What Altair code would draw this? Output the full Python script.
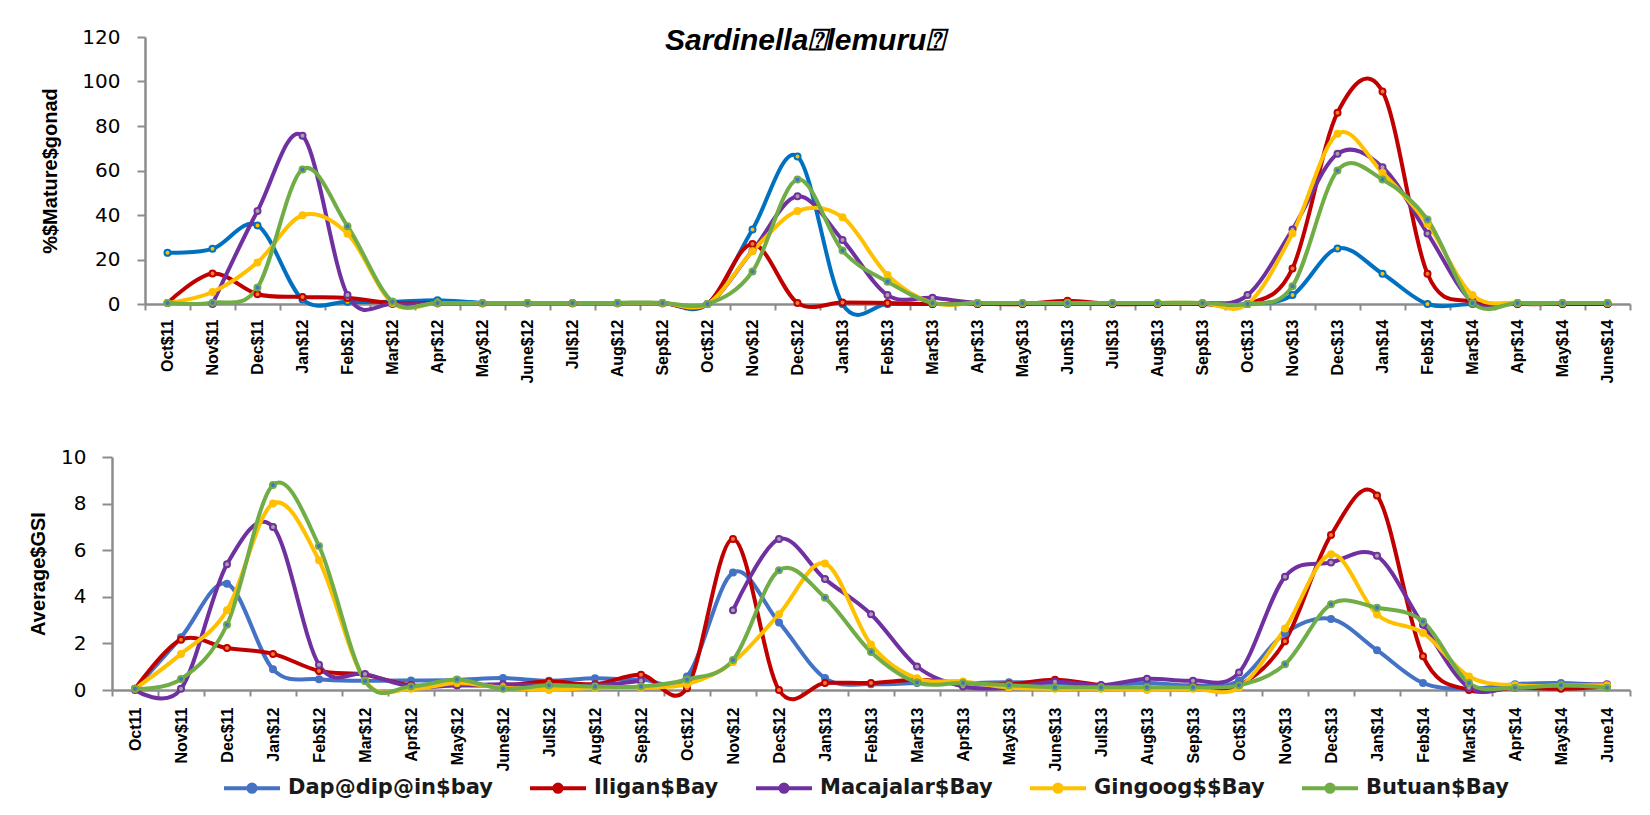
import altair as alt
import pandas as pd

bays = ["Dap@dip@in$bay", "Iligan$Bay", "Macajalar$Bay", "Gingoog$$Bay", "Butuan$Bay"]

top_labels = ["Oct$11", "Nov$11", "Dec$11", "Jan$12", "Feb$12", "Mar$12", "Apr$12", "May$12",
              "June$12", "Jul$12", "Aug$12", "Sep$12", "Oct$12", "Nov$12", "Dec$12", "Jan$13",
              "Feb$13", "Mar$13", "Apr$13", "May$13", "Jun$13", "Jul$13", "Aug$13", "Sep$13",
              "Oct$13", "Nov$13", "Dec$13", "Jan$14", "Feb$14", "Mar$14", "Apr$14", "May$14", "June$14"]

bottom_labels = ["Oct11", "Nov$11", "Dec$11", "Jan$12", "Feb$12", "Mar$12", "Apr$12", "May$12",
                 "June$12", "Jul$12", "Aug$12", "Sep$12", "Oct$12", "Nov$12", "Dec$12", "Jan$13",
                 "Feb$13", "Mar$13", "Apr$13", "May$13", "June$13", "Jul$13", "Aug$13", "Sep$13",
                 "Oct$13", "Nov$13", "Dec$13", "Jan$14", "Feb$14", "Mar$14", "Apr$14", "May$14", "June14"]

# % mature gonad
top_dap = [23, 24.8, 35.3, 2, 1, 1, 1.7, 0.5, 0.5, 0.5, 0.5, 0.5, 0, 33.5, 66.3, 0, 0, 0, 0, 0, 0, 0, 0, 0,
           0, 4, 25, 13.6, 0, 0, 0, 0, 0]
top_iligan = [0.5, 13.7, 4.4, 3.2, 2.7, 0.5, 0.3, 0.3, 0.3, 0.3, 0.3, 0.3, 0, 27, 0.5, 0.7, 0.5, 0, 0, 0,
              1.5, 0, 0, 0, 0, 16, 86, 95.5, 13.6, 1, 0, 0, 0]
top_macajalar = [None, 0, 41.8, 75.6, 4, 0, 0.3, 0.3, 0.3, 0.3, 0.3, 0.3, 0, 24, 48.4, 28.8, 4, 2.8, 0.5,
                 0.3, 0.3, 0.3, 0.3, 0.3, 4, 33.5, 67.5, 61.5, 31.7, 1, 0.5, 0.5, 0.5]
top_gingoog = [0.5, 5.4, 18.7, 39.9, 31.6, 0.5, 0.5, 0.5, 0.5, 0.5, 0.5, 0.5, 0, 23.7, 41.8, 39, 13, 0.5,
               0.5, 0.5, 0.5, 0.5, 0.5, 0.5, 0, 31.7, 76.5, 59, 36, 4, 0.5, 0.5, 0.5]
top_butuan = [0.5, 0.6, 7.4, 60.5, 35, 1, 0.5, 0.5, 0.5, 0.5, 0.5, 0.5, 0, 14.6, 56, 24, 10, 0.5, 0.5,
              0.5, 0.5, 0.5, 0.5, 0.5, 0, 8, 60, 56, 38, 0.5, 0.5, 0.5, 0.5]

# average GSI
bot_dap = [0.05, 2.26, 4.56, 0.89, 0.46, 0.4, 0.41, 0.43, 0.51, 0.4, 0.5, 0.45, 0.58, 5.04, 2.9, 0.51,
           0.25, 0.3, 0.3, 0.33, 0.3, 0.2, 0.3, 0.2, 0.4, 2.44, 3.05, 1.71, 0.3, 0.05, 0.25, 0.3, 0.2]
bot_iligan = [0.05, 2.16, 1.8, 1.55, 0.82, 0.65, 0.2, 0.2, 0.2, 0.37, 0.25, 0.65, 0.08, 6.48, 0.0, 0.3,
              0.3, 0.44, 0.3, 0.25, 0.44, 0.2, 0.05, 0.15, 0.2, 2.09, 6.65, 8.35, 1.45, 0.0, 0.1, 0.05, 0.15]
bot_macajalar = [0.0, 0.05, 5.4, 7.0, 1.08, 0.69, 0.15, 0.2, 0.25, 0.2, 0.2, 0.4, None, 3.42, 6.48, 4.76,
                 3.25, 1.01, 0.15, 0.1, 0.35, 0.2, 0.48, 0.4, 0.75, 4.86, 5.47, 5.76, 2.8, 0.1, 0.15, 0.2, 0.25]
bot_gingoog = [0.05, 1.55, 3.42, 8.0, 5.57, 0.4, 0.05, 0.3, 0.1, 0.0, 0.1, 0.1, 0.25, 1.2, 3.25, 5.43,
               1.95, 0.5, 0.37, 0.1, 0.05, 0.05, 0.0, 0.05, 0.1, 2.64, 5.83, 3.24, 2.45, 0.58, 0.2, 0.2, 0.2]
bot_butuan = [0.05, 0.47, 2.8, 8.8, 6.18, 0.39, 0.15, 0.45, 0.05, 0.2, 0.15, 0.15, 0.45, 1.29, 5.14, 3.96,
              1.63, 0.32, 0.3, 0.2, 0.12, 0.12, 0.12, 0.12, 0.2, 1.11, 3.68, 3.53, 2.94, 0.3, 0.1, 0.2, 0.1]

top_line_colors = ["#0070C0", "#C00000", "#7030A0", "#FFC000", "#70AD47"]
bot_line_colors = ["#4472C4", "#C00000", "#7030A0", "#FFC000", "#70AD47"]
top_fill_colors = ["#FFC000", "#ED7D31", "#A5A5A5", "#FFC000", "#4472C4"]
bot_fill_colors = ["#4472C4", "#ED7D31", "#A5A5A5", "#FFC000", "#4472C4"]


def build(labels, series):
    rows = []
    for bay, vals in zip(bays, series):
        seg = 0
        for lab, v in zip(labels, vals):
            if v is None:
                seg += 1
                continue
            rows.append({"Month": lab, "Bay": bay, "Value": v, "Seg": f"{bay}-{seg}"})
    return pd.DataFrame(rows)


df_top = build(top_labels, [top_dap, top_iligan, top_macajalar, top_gingoog, top_butuan])
df_bot = build(bottom_labels, [bot_dap, bot_iligan, bot_macajalar, bot_gingoog, bot_butuan])

AX = "#8c8c8c"
PANEL_W = 1518


def panel(df, labels, line_colors, fill_colors, ymax, ystep, ytitle, x0, height,
          tick_y, lab_pad_y, title_pad_y, lab_pad_x, legend):
    xscale = alt.Scale(type="band", domain=labels, range=[x0, PANEL_W], paddingInner=0, paddingOuter=0)
    xaxis = alt.Axis(title=None, labelAngle=-90, labelFont="Liberation Sans", labelFontWeight="bold",
                     labelFontSize=16, labelColor="#000000", labelPadding=lab_pad_x, tickBand="extent",
                     tickSize=6, tickColor=AX, tickWidth=2, domainColor=AX, domainWidth=2.5,
                     labelOverlap=False, labelLimit=200)
    yaxis = alt.Axis(title=ytitle, values=list(range(0, ymax + 1, ystep)), grid=False, offset=-x0,
                     labelFont="DejaVu Sans", labelFontSize=20, labelColor="#000000",
                     labelPadding=lab_pad_y, tickSize=tick_y, tickColor=AX, tickWidth=2,
                     domainColor=AX, domainWidth=2.5, titleFont="Liberation Sans", titleFontSize=20,
                     titleFontWeight="bold", titleColor="#000000", titlePadding=title_pad_y)
    yscale = alt.Scale(domain=[0, ymax], nice=False, zero=True)
    base = alt.Chart(df)
    if legend:
        leg = alt.Legend(title=None, orient="none", legendX=110, legendY=301, direction="horizontal",
                         columns=5, symbolType="M-1,0L1,0M0.13,0A0.13,0.13,0,1,1,-0.13,0A0.13,0.13,0,1,1,0.13,0",
                         symbolSize=3136, symbolStrokeWidth=4, labelFont="DejaVu Sans",
                         labelFontSize=21, labelFontWeight="bold", labelColor="#1a1a1a",
                         labelOffset=6, columnPadding=29, padding=0, labelLimit=400)
    else:
        leg = None
    color = alt.Color("Bay:N", scale=alt.Scale(domain=bays, range=line_colors), legend=leg)
    lines = base.mark_line(interpolate="cardinal", tension=0, strokeWidth=4,
                           strokeJoin="round", strokeCap="round").encode(
        x=alt.X("Month:N", scale=xscale, axis=xaxis, sort=labels),
        y=alt.Y("Value:Q", scale=yscale, axis=yaxis),
        color=color,
        detail="Seg:N",
    )
    points = base.mark_point(filled=True, size=36, strokeWidth=2, opacity=1).encode(
        x=alt.X("Month:N", scale=xscale, sort=labels),
        y=alt.Y("Value:Q", scale=yscale),
        stroke=alt.Stroke("Bay:N", scale=alt.Scale(domain=bays, range=line_colors), legend=None),
        fill=alt.Fill("Bay:N", scale=alt.Scale(domain=bays, range=fill_colors), legend=None),
    )
    return alt.layer(lines, points).properties(width=PANEL_W, height=height) \
        .resolve_scale(stroke="independent", fill="independent", color="independent")


top = panel(df_top, top_labels, top_line_colors, top_fill_colors, 120, 20, "%$Mature$gonad",
            33, 267, 8, 17, 21, 9, False).properties(
    title=alt.TitleParams("Sardinella\u2370lemuru\u2370", font="Liberation Sans", fontSize=30,
                          fontWeight="bold", fontStyle="italic", anchor="start", frame="group",
                          dx=553, offset=-29, color="#000000"))

bottom = panel(df_bot, bottom_labels, bot_line_colors, bot_fill_colors, 10, 2, "Average$GSI",
               0, 233, 10, 16, 12, 11, True)

chart = alt.vconcat(top, bottom, spacing=63).resolve_scale(
    x="independent", y="independent", color="independent", stroke="independent", fill="independent"
).properties(
    padding={"left": 20, "top": 18, "right": 5, "bottom": 5},
    background="white",
).configure_view(stroke=None)

chart.save("out.html", embed_options={"renderer": "svg", "actions": False})
